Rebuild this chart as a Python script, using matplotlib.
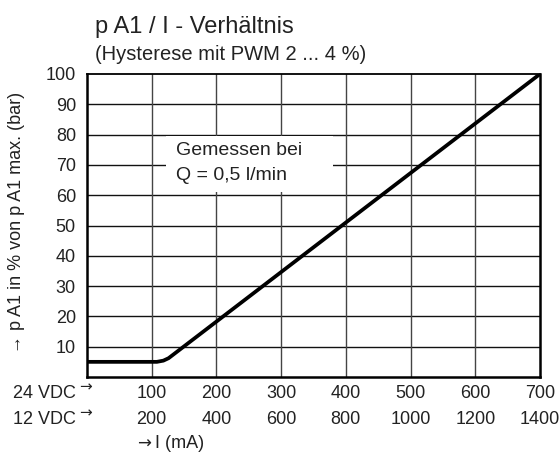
import matplotlib.pyplot as plt
from matplotlib.patches import Rectangle
from matplotlib.transforms import blended_transform_factory

plt.rcParams['font.family'] = ['Liberation Sans', 'DejaVu Sans']

# values
current_24 = [100, 200, 300, 400, 500, 600, 700]
current_12 = [200, 400, 600, 800, 1000, 1200, 1400]
y_ticks = [10, 20, 30, 40, 50, 60, 70, 80, 90, 100]
curve_x = [0, 108, 118, 126, 700]
curve_y = [5, 5, 5.4, 6.2, 100]

txt = '#222222'

fig = plt.figure(figsize=(5.6, 4.54), dpi=100)
ax = fig.add_axes([87 / 560, 1 - 377 / 454, 453 / 560, 303 / 454])
ax.set_xlim(0, 700)
ax.set_ylim(0, 100)

for y in y_ticks[:-1]:
    ax.axhline(y, color='#111111', lw=1.0, zorder=1)
for x in current_24[:-1]:
    ax.axvline(x, color='#444444', lw=1.0, zorder=1)

# white box behind the note
ax.add_patch(Rectangle((122, 61), 258, 18.5, facecolor='white',
                       edgecolor='none', zorder=2))
ax.text(137, 74.8, 'Gemessen bei', fontsize=14, color=txt, va='center', zorder=3)
ax.text(137, 66.6, 'Q = 0,5 l/min', fontsize=14, color=txt, va='center', zorder=3)

ax.plot(curve_x, curve_y, color='black', lw=2.7, solid_capstyle='butt', zorder=4)

for s in ax.spines.values():
    s.set_color('black')
    s.set_linewidth(1.8)
ax.spines['top'].set_linewidth(1.3)

ax.set_yticks(y_ticks)
ax.set_yticklabels([str(v) for v in y_ticks], fontsize=13, color=txt)
ax.tick_params(axis='y', length=0, pad=8)
ax.set_xticks([])

tr = blended_transform_factory(ax.transData, fig.transFigure)
for a, b in zip(current_24, current_12):
    ax.text(a, 1 - 393 / 454, str(a), transform=tr, fontsize=13,
            color=txt, ha='center', va='center')
    ax.text(a, 1 - 419 / 454, str(b), transform=tr, fontsize=13,
            color=txt, ha='center', va='center')

fig.text(13 / 560, 1 - 393 / 454, '24 VDC', fontsize=13, color=txt, va='center')
fig.text(13 / 560, 1 - 419 / 454, '12 VDC', fontsize=13, color=txt, va='center')
fig.text(79 / 560, 1 - 387 / 454, '→', fontsize=11, color=txt, va='center',
         family='DejaVu Sans')
fig.text(79 / 560, 1 - 413 / 454, '→', fontsize=11, color=txt, va='center',
         family='DejaVu Sans')
fig.text(137 / 560, 1 - 444 / 454, '→', fontsize=12, color=txt, va='center',
         family='DejaVu Sans')
fig.text(155 / 560, 1 - 443 / 454, 'I (mA)', fontsize=13, color=txt, va='center')

fig.text(17 / 560, 1 - 222 / 454, '→ p A1 in % von p A1 max. (bar)', fontsize=13,
         color=txt, rotation=90, ha='center', va='center')

fig.text(95 / 560, 1 - 27 / 454, 'p A1 / I - Verhältnis', fontsize=17,
         color=txt, va='center')
fig.text(95 / 560, 1 - 54 / 454, '(Hysterese mit PWM 2 ... 4 %)', fontsize=14.5,
         color=txt, va='center')

fig.savefig('out.png', dpi=100)
